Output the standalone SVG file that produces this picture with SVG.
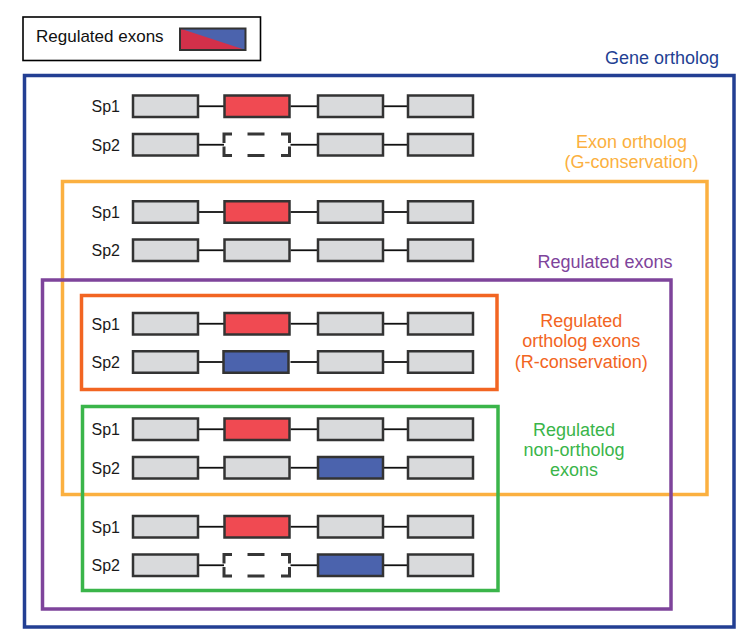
<svg xmlns="http://www.w3.org/2000/svg" width="754" height="640" viewBox="0 0 754 640">
<style>
text{font-family:"Liberation Sans",Arial,sans-serif;}
.sp{font-size:16px;fill:#1a1a1a;}
.lab{font-size:18px;text-anchor:middle;}
.ex{stroke:#333333;stroke-width:2.5;}
.g{fill:#d9dadc;}
.r{fill:#f04a52;}
.b{fill:#4b63ad;}
.dash{fill:none;stroke:#363636;stroke-width:3;}
.con line{stroke:#111111;stroke-width:1.8;}
.fr{fill:none;stroke-width:3.5;}
</style>
<rect width="754" height="640" fill="#ffffff"/>

<g id="legend">
<rect x="23" y="17" width="237.5" height="43.5" fill="#ffffff" stroke="#000000" stroke-width="1.6"/>
<text x="36" y="42" style="font-size:17px" fill="#111111">Regulated exons</text>
<rect x="180" y="28.5" width="65.5" height="21.5" fill="#4b63ad"/>
<polygon points="180,28.5 245.5,50 180,50" fill="#d3304a"/>
<rect x="180" y="28.5" width="65.5" height="21.5" fill="none" stroke="#333333" stroke-width="2"/>
</g>

<g id="frames">
<g id="gene-ortholog"><rect class="fr" x="24.5" y="75.5" width="709.5" height="551.5" stroke="#233f93"/>
<text class="lab" x="662" y="64" fill="#233f93">Gene ortholog</text></g>
<g id="exon-ortholog"><rect class="fr" x="62.5" y="181.5" width="644.5" height="313" stroke="#fbb040"/>
<text class="lab" x="631.5" y="147.5" fill="#fbb040">Exon ortholog</text>
<text class="lab" x="631.5" y="167.5" fill="#fbb040">(G-conservation)</text></g>
<g id="regulated-exons"><rect class="fr" x="42.5" y="280" width="628.5" height="329" stroke="#7e449b"/>
<text class="lab" x="605" y="268" fill="#7e449b">Regulated exons</text></g>
<g id="regulated-ortholog"><rect class="fr" x="81.5" y="295.5" width="415.5" height="94" stroke="#f26522"/>
<text class="lab" x="581.3" y="327" fill="#f26522">Regulated</text>
<text class="lab" x="581.3" y="347" fill="#f26522">ortholog exons</text>
<text class="lab" x="581.3" y="367.5" fill="#f26522">(R-conservation)</text></g>
<g id="regulated-nonortholog"><rect class="fr" x="82.5" y="406.5" width="415.5" height="184" stroke="#3ab54a"/>
<text class="lab" x="574" y="436" fill="#3ab54a">Regulated</text>
<text class="lab" x="574" y="456" fill="#3ab54a">non-ortholog</text>
<text class="lab" x="574" y="476" fill="#3ab54a">exons</text></g>
</g>

<g id="connectors" class="con">
<line x1="199" y1="106.25" x2="224" y2="106.25"/><line x1="290.5" y1="106.25" x2="317" y2="106.25"/><line x1="384" y1="106.25" x2="407" y2="106.25"/>
<line x1="199" y1="144.75" x2="224" y2="144.75"/><line x1="290.5" y1="144.75" x2="317" y2="144.75"/><line x1="384" y1="144.75" x2="407" y2="144.75"/>
<line x1="199" y1="212" x2="224" y2="212"/><line x1="290.5" y1="212" x2="317" y2="212"/><line x1="384" y1="212" x2="407" y2="212"/>
<line x1="199" y1="250.25" x2="224" y2="250.25"/><line x1="290.5" y1="250.25" x2="317" y2="250.25"/><line x1="384" y1="250.25" x2="407" y2="250.25"/>
<line x1="199" y1="323.75" x2="224" y2="323.75"/><line x1="290.5" y1="323.75" x2="317" y2="323.75"/><line x1="384" y1="323.75" x2="407" y2="323.75"/>
<line x1="199" y1="362" x2="224" y2="362"/><line x1="290.5" y1="362" x2="317" y2="362"/><line x1="384" y1="362" x2="407" y2="362"/>
<line x1="199" y1="429.25" x2="224" y2="429.25"/><line x1="290.5" y1="429.25" x2="317" y2="429.25"/><line x1="384" y1="429.25" x2="407" y2="429.25"/>
<line x1="199" y1="467.75" x2="224" y2="467.75"/><line x1="290.5" y1="467.75" x2="317" y2="467.75"/><line x1="384" y1="467.75" x2="407" y2="467.75"/>
<line x1="199" y1="526.75" x2="224" y2="526.75"/><line x1="290.5" y1="526.75" x2="317" y2="526.75"/><line x1="384" y1="526.75" x2="407" y2="526.75"/>
<line x1="199" y1="565.25" x2="224" y2="565.25"/><line x1="290.5" y1="565.25" x2="317" y2="565.25"/><line x1="384" y1="565.25" x2="407" y2="565.25"/>
</g>

<g id="pair1">
<g id="p1-sp1"><text class="sp" x="91.5" y="112.3">Sp1</text>
<rect class="ex g" x="133" y="95.5" width="65" height="21.5"/><rect class="ex r" x="224.5" y="95.5" width="65" height="21.5"/><rect class="ex g" x="318" y="95.5" width="65" height="21.5"/><rect class="ex g" x="408" y="95.5" width="65" height="21.5"/></g>
<g id="p1-sp2"><text class="sp" x="91.5" y="150.8">Sp2</text>
<rect class="ex g" x="133" y="134" width="65" height="21.5"/>
<path class="dash" d="M224,143 V134 H232 M247.5,134 H264.5 M281,134 H289.5 V143 M289.5,146.5 V155.5 H281 M264.5,155.5 H247.5 M232,155.5 H224 V146.5"/>
<rect class="ex g" x="318" y="134" width="65" height="21.5"/><rect class="ex g" x="408" y="134" width="65" height="21.5"/></g>
</g>

<g id="pair2">
<g id="p2-sp1"><text class="sp" x="91.5" y="218">Sp1</text>
<rect class="ex g" x="133" y="201.25" width="65" height="21.5"/><rect class="ex r" x="224.5" y="201.25" width="65" height="21.5"/><rect class="ex g" x="318" y="201.25" width="65" height="21.5"/><rect class="ex g" x="408" y="201.25" width="65" height="21.5"/></g>
<g id="p2-sp2"><text class="sp" x="91.5" y="256.3">Sp2</text>
<rect class="ex g" x="133" y="239.5" width="65" height="21.5"/><rect class="ex g" x="224.5" y="239.5" width="65" height="21.5"/><rect class="ex g" x="318" y="239.5" width="65" height="21.5"/><rect class="ex g" x="408" y="239.5" width="65" height="21.5"/></g>
</g>

<g id="pair3">
<g id="p3-sp1"><text class="sp" x="91.5" y="329.8">Sp1</text>
<rect class="ex g" x="133" y="313" width="65" height="21.5"/><rect class="ex r" x="224.5" y="313" width="65" height="21.5"/><rect class="ex g" x="318" y="313" width="65" height="21.5"/><rect class="ex g" x="408" y="313" width="65" height="21.5"/></g>
<g id="p3-sp2"><text class="sp" x="91.5" y="368">Sp2</text>
<rect class="ex g" x="133" y="351.25" width="65" height="21.5"/><rect class="ex b" x="223.5" y="351.25" width="65" height="21.5"/><rect class="ex g" x="318" y="351.25" width="65" height="21.5"/><rect class="ex g" x="408" y="351.25" width="65" height="21.5"/></g>
</g>

<g id="pair4">
<g id="p4-sp1"><text class="sp" x="91.5" y="435.3">Sp1</text>
<rect class="ex g" x="133" y="418.5" width="65" height="21.5"/><rect class="ex r" x="224.5" y="418.5" width="65" height="21.5"/><rect class="ex g" x="318" y="418.5" width="65" height="21.5"/><rect class="ex g" x="408" y="418.5" width="65" height="21.5"/></g>
<g id="p4-sp2"><text class="sp" x="91.5" y="473.8">Sp2</text>
<rect class="ex g" x="133" y="457" width="65" height="21.5"/><rect class="ex g" x="224.5" y="457" width="65" height="21.5"/><rect class="ex b" x="318" y="457" width="65" height="21.5"/><rect class="ex g" x="408" y="457" width="65" height="21.5"/></g>
</g>

<g id="pair5">
<g id="p5-sp1"><text class="sp" x="91.5" y="532.8">Sp1</text>
<rect class="ex g" x="133" y="516" width="65" height="21.5"/><rect class="ex r" x="224.5" y="516" width="65" height="21.5"/><rect class="ex g" x="318" y="516" width="65" height="21.5"/><rect class="ex g" x="408" y="516" width="65" height="21.5"/></g>
<g id="p5-sp2"><text class="sp" x="91.5" y="571.3">Sp2</text>
<rect class="ex g" x="133" y="554.5" width="65" height="21.5"/>
<path class="dash" d="M224,563.5 V554.5 H232 M247.5,554.5 H264.5 M281,554.5 H289.5 V563.5 M289.5,567 V576 H281 M264.5,576 H247.5 M232,576 H224 V567"/>
<rect class="ex b" x="318" y="554.5" width="65" height="21.5"/><rect class="ex g" x="408" y="554.5" width="65" height="21.5"/></g>
</g>
</svg>
